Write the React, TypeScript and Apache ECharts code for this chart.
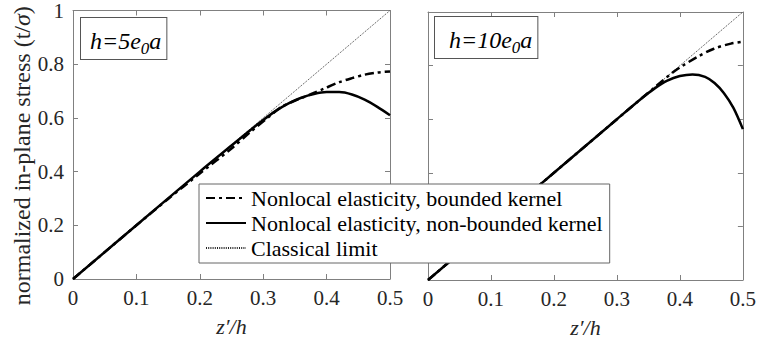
import React, { useEffect, useRef } from "react";
import * as echarts from "echarts";

// ---- data ----
const seriesNames = [
  "Nonlocal elasticity, bounded kernel",
  "Nonlocal elasticity, non-bounded kernel",
  "Classical limit",
];

// left panel: h = 5 e0 a
const leftBoundedX = [0, 0.05, 0.1, 0.15, 0.2, 0.25, 0.28, 0.31, 0.33, 0.353, 0.375, 0.395, 0.42, 0.44, 0.46, 0.48, 0.5];
const leftBoundedY = [0, 0.1, 0.2, 0.298, 0.393, 0.486, 0.548, 0.606, 0.643, 0.667, 0.688, 0.708, 0.733, 0.748, 0.761, 0.769, 0.773];
const leftNonBoundedX = [0, 0.1, 0.2, 0.25, 0.28, 0.3, 0.32, 0.34, 0.36, 0.38, 0.4, 0.42, 0.44, 0.46, 0.48, 0.5];
const leftNonBoundedY = [0, 0.2, 0.4, 0.497, 0.555, 0.592, 0.626, 0.654, 0.675, 0.689, 0.696, 0.696, 0.687, 0.668, 0.641, 0.61];

// right panel: h = 10 e0 a
const rightBoundedX = [0, 0.1, 0.2, 0.3, 0.362, 0.389, 0.402, 0.428, 0.454, 0.481, 0.5];
const rightBoundedY = [0, 0.2, 0.4, 0.6, 0.723, 0.775, 0.796, 0.833, 0.863, 0.882, 0.889];
const rightNonBoundedX = [0, 0.1, 0.2, 0.3, 0.34, 0.36, 0.38, 0.4, 0.42, 0.44, 0.455, 0.47, 0.485, 0.5];
const rightNonBoundedY = [0, 0.2, 0.4, 0.6, 0.679, 0.715, 0.744, 0.761, 0.767, 0.758, 0.735, 0.697, 0.642, 0.563];

const classicalX = [0, 0.5];
const classicalY = [0, 1];

const panelLabels = ["{i|h=5e}{s|0}{i|a}", "{i|h=10e}{s|0}{i|a}"];
const xName = "z\u2032/h";
const yName = "{n|normalized in-plane stress (t/}{i|\u03c3}{n|)}";

const zip = (xs: number[], ys: number[]) => xs.map((x, i) => [x, ys[i]]);

const FONT = "Liberation Serif";
const AXIS_COLOR = "#808080";
const TEXT_COLOR = "#262626";

export default function App() {
  const ref = useRef<HTMLDivElement>(null);
  useEffect(() => {
    if (!ref.current) return;
    const chart = echarts.init(ref.current, undefined, { renderer: "svg" });

    const grids = [
      { left: 73, top: 10, width: 317, height: 269 },
      { left: 428, top: 12, width: 318, height: 270 },
    ];

    const baseAxis = {
      axisLine: { show: true, onZero: false, lineStyle: { color: AXIS_COLOR, width: 1 } },
      axisTick: { show: true, inside: true, length: 5, lineStyle: { color: AXIS_COLOR } },
      splitLine: { show: false },
    };

    const xAxes: any[] = [];
    const yAxes: any[] = [];
    [0, 1].forEach((g) => {
      xAxes.push({
        ...baseAxis,
        type: "value",
        gridIndex: g,
        position: "bottom",
        min: 0,
        max: 0.5,
        interval: 0.1,
        axisLabel: { show: true, fontSize: 21, fontFamily: FONT, color: TEXT_COLOR, margin: 8 },
        name: xName,
        nameLocation: "middle",
        nameGap: 36,
        nameTextStyle: { fontSize: 22, fontFamily: FONT, fontStyle: "italic", color: TEXT_COLOR },
      });
      xAxes.push({
        ...baseAxis,
        type: "value",
        gridIndex: g,
        position: "top",
        min: 0,
        max: 0.5,
        interval: 0.1,
        axisLabel: { show: false },
      });
      yAxes.push({
        ...baseAxis,
        type: "value",
        gridIndex: g,
        position: "left",
        min: 0,
        max: 1,
        interval: 0.2,
        axisLabel: { show: g === 0, fontSize: 21, fontFamily: FONT, color: TEXT_COLOR, margin: 9 },
        ...(g === 0
          ? {
              name: yName,
              nameLocation: "middle",
              nameGap: 35,
              nameTextStyle: {
                fontSize: 24,
                fontFamily: FONT,
                color: TEXT_COLOR,
                padding: [0, 22, 0, 0],
                rich: {
                  n: { fontSize: 24, fontFamily: FONT, color: TEXT_COLOR },
                  i: { fontSize: 24, fontFamily: FONT, fontStyle: "italic", color: TEXT_COLOR },
                },
              },
            }
          : {}),
      });
      yAxes.push({
        ...baseAxis,
        type: "value",
        gridIndex: g,
        position: "right",
        min: 0,
        max: 1,
        interval: 0.2,
        axisLabel: { show: false },
      });
    });

    const panels = [
      { b: zip(leftBoundedX, leftBoundedY), n: zip(leftNonBoundedX, leftNonBoundedY) },
      { b: zip(rightBoundedX, rightBoundedY), n: zip(rightNonBoundedX, rightNonBoundedY) },
    ];

    const series: any[] = [];
    panels.forEach((p, g) => {
      const xi = g * 2;
      const yi = g * 2;
      series.push({
        name: seriesNames[2],
        type: "line",
        xAxisIndex: xi,
        yAxisIndex: yi,
        data: zip(classicalX, classicalY),
        showSymbol: false,
        symbol: "none",
        lineStyle: { color: "#222", width: 0.9, type: [1, 1.2] },
        z: 2,
      });
      series.push({
        name: seriesNames[1],
        type: "line",
        xAxisIndex: xi,
        yAxisIndex: yi,
        data: p.n,
        smooth: 0.3,
        showSymbol: false,
        symbol: "none",
        lineStyle: { color: "#000", width: 2.5, type: "solid" },
        z: 3,
      });
      series.push({
        name: seriesNames[0],
        type: "line",
        xAxisIndex: xi,
        yAxisIndex: yi,
        data: p.b,
        smooth: 0.3,
        showSymbol: false,
        symbol: "none",
        lineStyle: { color: "#000", width: 2.5, type: [9, 4, 3, 4] },
        z: 4,
      });
    });

    const richLabel = {
      i: { fontSize: 24, fontFamily: FONT, fontStyle: "italic", color: "#000" },
      s: { fontSize: 17, fontFamily: FONT, fontStyle: "italic", color: "#000", padding: [16, 0, 0, 0] },
    };

    chart.setOption({
      animation: false,
      backgroundColor: "#fff",
      grid: grids,
      xAxis: xAxes,
      yAxis: yAxes,
      series,
      legend: {
        data: seriesNames,
        orient: "vertical",
        left: 199,
        top: 184,
        backgroundColor: "#fff",
        borderColor: "#666",
        borderWidth: 1,
        borderRadius: 0,
        padding: [3, 7, 4, 6],
        itemGap: 3,
        itemWidth: 40,
        itemHeight: 14,
        itemStyle: { opacity: 0 },
        textStyle: { fontSize: 22, fontFamily: FONT, color: "#000", lineHeight: 22 },
        selectedMode: false,
        z: 10,
      },
      graphic: [
        {
          type: "text",
          left: 80,
          top: 17,
          z: 10,
          style: {
            text: panelLabels[0],
            rich: richLabel,
            backgroundColor: "#fff",
            borderColor: "#555",
            borderWidth: 1,
            padding: [6, 5, 2, 9],
          },
        },
        {
          type: "text",
          left: 434,
          top: 16,
          z: 10,
          style: {
            text: panelLabels[1],
            rich: richLabel,
            backgroundColor: "#fff",
            borderColor: "#555",
            borderWidth: 1,
            padding: [6, 5, 2, 14],
          },
        },
      ],
    });

    return () => chart.dispose();
  }, []);

  return (
    <div
      ref={ref}
      style={{ position: "fixed", left: 0, top: 0, width: 759, height: 343, background: "#fff" }}
    />
  );
}
